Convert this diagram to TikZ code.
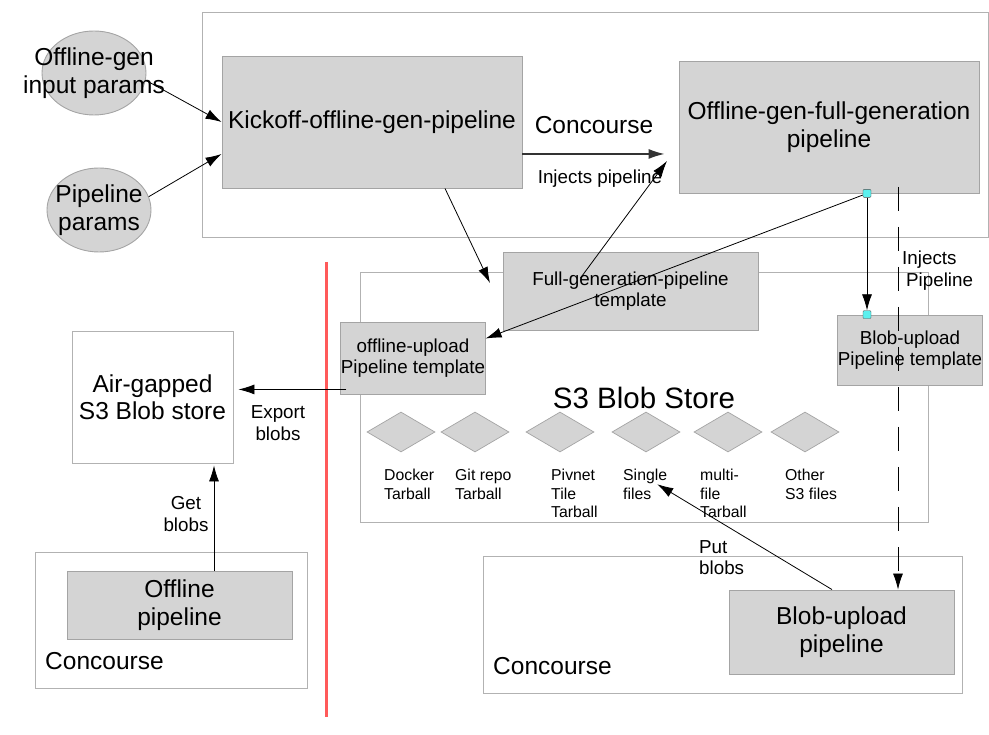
\documentclass[tikz,border=0pt]{standalone}
\usepackage{fontspec}
\setmainfont{Liberation Sans}
\usetikzlibrary{shapes.geometric,arrows.meta}
\definecolor{boxgray}{HTML}{D4D4D4}
\definecolor{edgegray}{HTML}{A4A4A4}
\definecolor{framegray}{HTML}{B2B2B2}
\definecolor{tapcyan}{HTML}{5CF0EE}
\definecolor{gapred}{HTML}{FF5A5A}

\begin{document}
\begin{tikzpicture}[x=1pt,y=-1pt,>={Latex[length=16pt,width=10pt]},
    bigtxt/.style={inner sep=0pt,align=center,font=\fontsize{24.5}{27.5}\selectfont},
    midtxt/.style={inner sep=0pt,align=center,font=\fontsize{18.8}{21.5}\selectfont},
    smalltxt/.style={inner sep=0pt,align=left,font=\fontsize{15.8}{18.5}\selectfont},
    pipebox/.style={draw=edgegray,fill=boxgray,line width=0.9pt,inner sep=0pt,bigtxt},
    tmplbox/.style={draw=edgegray,fill=boxgray,line width=0.9pt,inner sep=0pt,midtxt},
    frame/.style={draw=framegray,fill=white,line width=0.9pt,inner sep=0pt},
    param/.style={ellipse,draw=edgegray,fill=boxgray,line width=0.9pt,minimum width=104pt,minimum height=84pt,inner sep=0pt},
    blob/.style={diamond,draw=edgegray,fill=boxgray,line width=0.7pt,minimum width=68pt,minimum height=40pt,inner sep=0pt},
    tap/.style={draw=black!70,fill=tapcyan,minimum size=8pt,inner sep=0pt,rounded corners=1pt},
    link/.style={line width=0.8pt}]
  \useasboundingbox (0,0) rectangle (989,735);

  % frames
  \node[frame,minimum width=786pt,minimum height=225pt] (topconc) at (595,124.5) {};
  \node[frame,minimum width=568pt,minimum height=250pt] (s3box) at (644,397) {};
  \node[frame,minimum width=479pt,minimum height=137pt] (rconc) at (722.5,624.5) {};
  \node[frame,minimum width=272pt,minimum height=136pt] (lconc) at (171,620) {};
  \node[frame,bigtxt,minimum width=161pt,minimum height=132pt] (airgap) at (152.5,397) {Air-gapped\\S3 Blob store};

  % params
  \node[param] (inparams) at (94,73) {};
  \node[bigtxt] (inparamstxt) at (inparams) {Offline-gen\\input params};
  \node[param] (pipeparams) at (99,210) {};
  \node[bigtxt] (pipeparamstxt) at (pipeparams) {Pipeline\\params};

  % pipelines and templates
  \node[pipebox,minimum width=300pt,minimum height=132pt] (kick) at (372,122) {Kickoff-offline-gen-pipeline};
  \node[pipebox,minimum width=300pt,minimum height=132pt] (fullgen) at (829,127) {Offline-gen-full-generation\\pipeline};
  \node[tmplbox,minimum width=255pt,minimum height=78pt] (fgtmpl) at (630.5,291) {Full-generation-pipeline\\template};
  \node[tmplbox,minimum width=138pt,minimum height=72pt] (offup) at (413,358) {offline-upload\\Pipeline template};
  \node[tmplbox,minimum width=144pt,minimum height=70pt] (blobtmpl) at (910,350) {Blob-upload\\Pipeline template};
  \node[pipebox,minimum width=225pt,minimum height=84pt] (blobpipe) at (841.5,632) {Blob-upload\\pipeline};
  \node[pipebox,minimum width=225pt,minimum height=68pt] (offpipe) at (179.5,605) {Offline\\pipeline};

  % air gap
  \draw[gapred,line width=3pt] (326,262) -- (326,717);

  % blob store contents
  \node[font=\fontsize{29.5}{32}\selectfont,inner sep=0pt] (s3title) at (644,398) {S3 Blob Store};
  \foreach \x [count=\i] in {401,475,560,646,728,805}
    \node[blob] (blob\i) at (\x,432) {};
  \foreach \x/\txt [count=\i] in {384/{Docker\\Tarball},455/{Git repo\\Tarball},551/{Pivnet\\Tile\\Tarball},
      623/{Single\\files},700/{multi-\\file\\Tarball},785/{Other\\S3 files}}
    \node[smalltxt,anchor=north west] (blobtxt\i) at (\x,469) {\txt};

  % labels
  \node[bigtxt] (conctop) at (594,125) {Concourse};
  \node[bigtxt,anchor=west] (concleft) at (45,661) {Concourse};
  \node[bigtxt,anchor=west] (concright) at (493,666) {Concourse};
  \node[midtxt] (injlbl) at (600,179) {Injects pipeline};
  \node[midtxt,align=left,anchor=north west] (injlbl2) at (902,251) {Injects\\\hspace*{4pt}Pipeline};
  \node[midtxt,align=left,anchor=north west] (putlbl) at (699,540) {Put\\blobs};
  \node[midtxt] (explbl) at (278,423) {Export\\blobs};
  \node[midtxt] (getlbl) at (186,514) {Get\\blobs};

  % connectors
  \draw[->,link] (inparams.-8) -- (kick.west);
  \draw[->,link] (pipeparams.15) -- (kick.192);
  \draw[->,line width=1.3pt,black!80,shorten >=14pt] (kick.-12) -- (kick.-12 -| fullgen.west);
  \coordinate (tmplin) at (490,283);
  \draw[->,link] ([shift={(73,0)}]kick.south) -- (tmplin);
  \coordinate (fgin) at (667,161);
  \draw[->,link] ([shift={(-50,-13)}]fgtmpl.center) -- (fgin);
  \node[tap] (tapA) at ([shift={(38,0)}]fullgen.south) {};
  \node[tap] (tapB) at (tapA |- blobtmpl.north) {};
  \draw[->,link] (tapA) -- (offup.15);
  \draw[->,link] (tapA) -- (tapB);
  \coordinate (dashtop) at (898,187);
  \draw[->,link,dash pattern=on 24pt off 16pt] (dashtop) -- (dashtop |- blobpipe.north);
  \draw[->,link] ([shift={(-9.5,0)}]blobpipe.north) -- ([shift={(-10,0)}]blobtxt4.east);
  \coordinate (expfrom) at ([shift={(6,-5)}]offup.south west);
  \draw[->,link,shorten >=5pt] (expfrom) -- (expfrom -| airgap.east);
  \coordinate (getfrom) at ([shift={(34.5,0)}]offpipe.north);
  \draw[->,link,shorten >=2pt] (getfrom) -- (getfrom |- airgap.south);
\end{tikzpicture}
\end{document}
